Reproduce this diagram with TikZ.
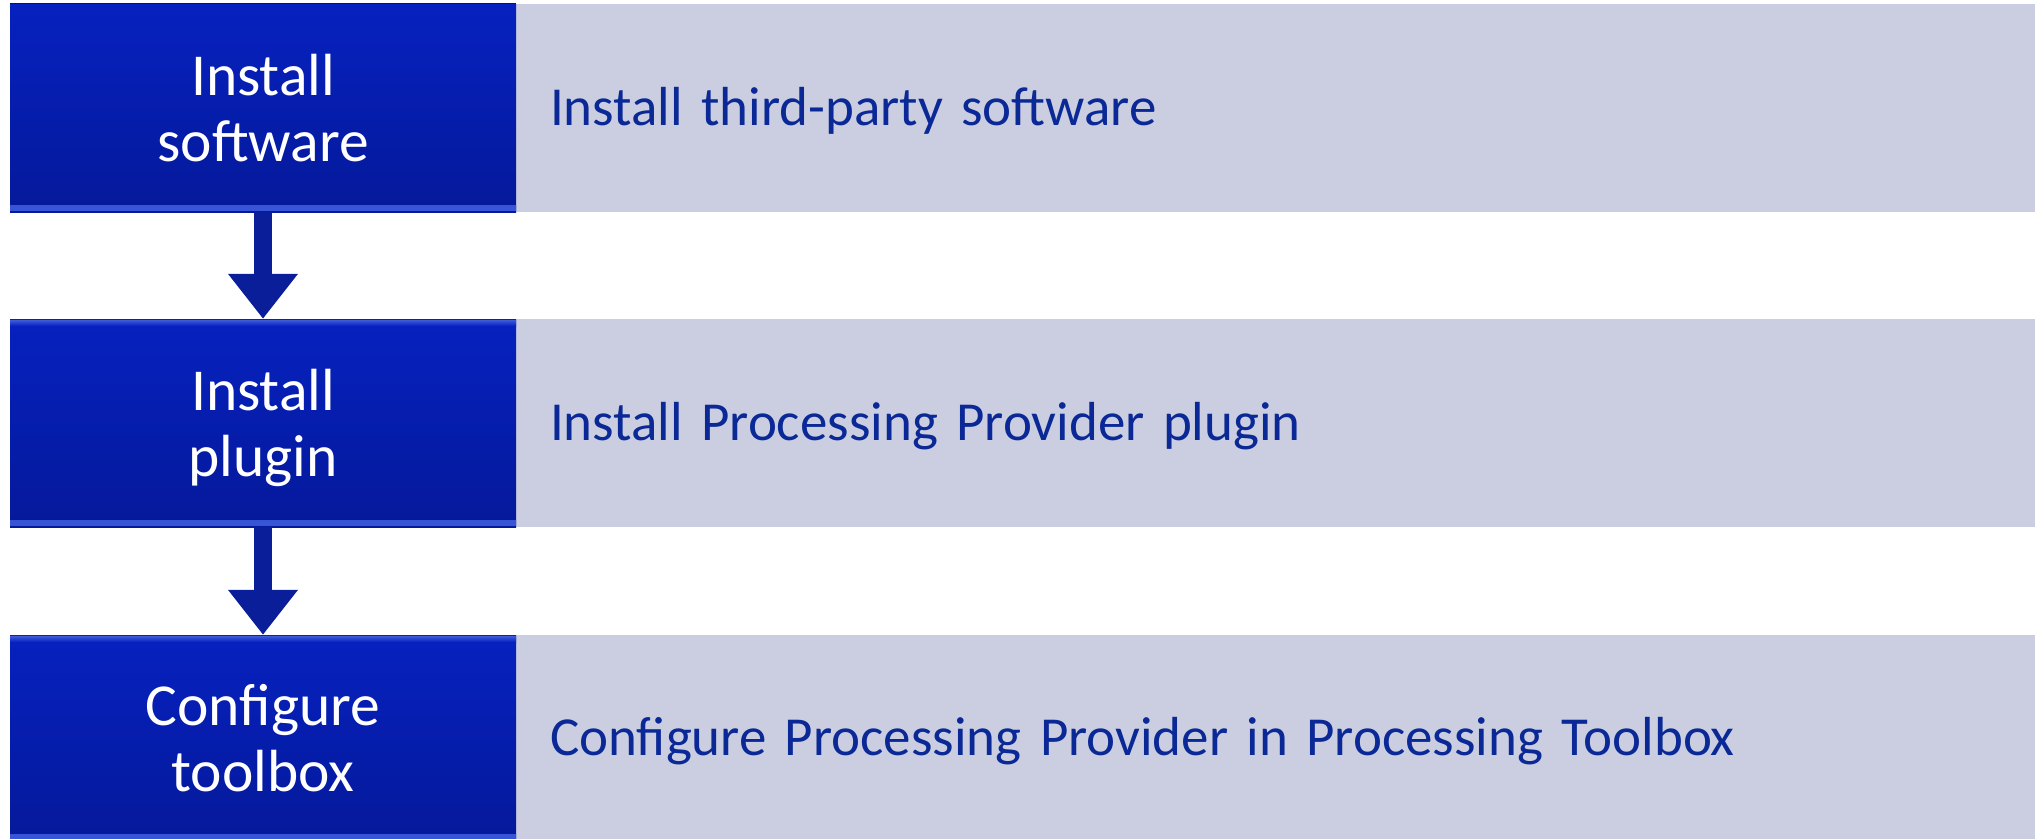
\documentclass[tikz,border=0pt]{standalone}
\usepackage{fontspec}
\setmainfont{Carlito}
\usetikzlibrary{arrows.meta}
\definecolor{bluetop}{HTML}{0621BF}
\definecolor{bluebot}{HTML}{05199A}
\definecolor{bevel}{HTML}{3A56D8}
\definecolor{graybg}{HTML}{CBCEE0}
\definecolor{graytext}{HTML}{0A2896}
\definecolor{arrowcol}{HTML}{0A1E9A}
\newcommand{\nodepth}[1]{\raisebox{0pt}[\height][0pt]{#1}}
\tikzset{
  stepbox/.style={minimum width=506pt, minimum height=208pt, inner sep=0pt,
    top color=bluetop, bottom color=bluebot, draw=none, text=white, align=center,
    font=\fontsize{59.5pt}{66pt}\selectfont,
    path picture={
      \shade[top color=bluebot, bottom color=bevel]
        ([yshift=7pt]path picture bounding box.south west) rectangle ([yshift=1.5pt]path picture bounding box.south east);
    }},
  stepboxtop/.style={stepbox,
    path picture={
      \shade[top color=bluebot, bottom color=bevel]
        ([yshift=7pt]path picture bounding box.south west) rectangle ([yshift=1.5pt]path picture bounding box.south east);
      \shade[top color=bevel, bottom color=bluetop]
        ([yshift=-1.5pt]path picture bounding box.north west) rectangle ([yshift=-7pt]path picture bounding box.north east);
    }},
  descbox/.style={minimum width=1519pt, minimum height=208pt, inner xsep=34pt, inner ysep=0pt,
    fill=graybg, text=graytext, text width=1451pt, align=left,
    text height=35pt, text depth=0pt,
    font=\fontsize{55pt}{60pt}\selectfont},
  flowarrow/.style={draw=arrowcol, line width=18pt,
    -{Triangle[width=67pt,length=45pt]}}
}
\begin{document}
\begin{tikzpicture}[x=1pt,y=-1pt]
\useasboundingbox (0,0) rectangle (2044,838);
% gray description boxes
\node[descbox] (g1) at (1275.5,108) {Install third-party software};
\node[descbox] (g2) at (1275.5,423) {Install Processing Provider plugin};
\node[descbox, minimum height=206pt] (g3) at (1275.5,738) {Configure Processing Provider in Processing Toolbox};
% blue step boxes
\node[stepbox] (b1) at (263,108) {Install\\\nodepth{software}};
\node[stepboxtop] (b2) at (263,423) {Install\\\nodepth{plugin}};
\node[stepboxtop, minimum height=206pt] (b3) at (263,738) {Configure\\\nodepth{toolbox}};
\draw[bluebot!70!black, line width=1.2pt] (b1.north west) -- (b1.north east);
% arrows
\draw[flowarrow] (b1.south) -- (b2.north);
\draw[flowarrow] (b2.south) -- (b3.north);
\end{tikzpicture}
\end{document}
